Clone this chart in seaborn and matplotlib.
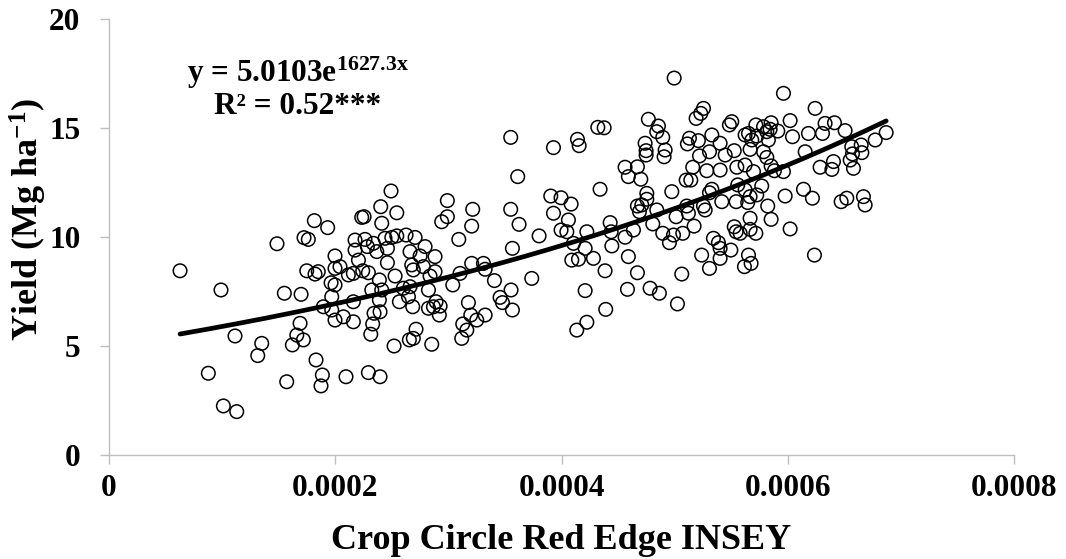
import numpy as np
import pandas as pd
import matplotlib
matplotlib.use("Agg")
import matplotlib.pyplot as plt
import seaborn as sns

# ---- data (INSEY in units of 1e-4, yield in Mg/ha) ----
insey_e4 = [
    0.628, 0.990, 1.114, 0.878, 1.011, 1.129,
    1.815, 1.933, 1.485, 1.724, 1.762, 2.234, 1.998, 1.748, 1.821, 1.850, 1.998, 2.042, 1.963, 1.998,
    1.969, 2.116, 2.160, 2.175, 2.175, 2.205, 1.550, 1.698, 1.895, 1.969, 1.998, 2.072, 2.160, 2.160,
    1.689, 1.660, 1.718, 1.621, 1.350, 1.315, 1.830, 1.886, 1.874, 1.571, 2.095,
    2.493, 2.402, 2.544, 2.255, 2.411, 2.991, 3.215, 2.941, 2.991, 3.206, 3.092, 2.263, 2.337, 2.440,
    2.500, 2.544, 2.626, 2.706, 2.284, 2.367, 2.461, 2.661, 2.794, 2.750, 2.882, 2.461, 2.676, 2.779,
    2.243, 2.293, 2.690, 2.882, 2.529, 2.390, 2.838, 3.206, 3.103, 3.310, 3.325, 2.323, 2.411, 2.602,
    2.661, 2.824, 3.039, 2.390, 2.567, 2.647, 2.685, 2.891, 2.824, 2.868, 2.927, 2.920, 2.343, 2.396,
    3.177, 3.198, 3.251, 3.325, 2.331, 2.314, 2.714, 2.690, 2.655, 2.853, 2.520, 3.127, 3.163, 3.118,
    2.293, 2.396,
    3.551, 3.929, 4.141, 4.156, 4.321, 4.377, 3.613, 4.341, 3.905, 3.996, 4.085, 3.551, 3.929, 4.061,
    3.625, 3.996, 4.047, 4.224, 4.430, 4.439, 3.802, 4.106, 4.209, 3.566, 4.282, 4.091, 4.150, 4.445,
    4.385, 3.407, 3.737, 3.554, 3.457, 3.478, 3.566, 4.209, 4.391, 4.224, 4.135,
    4.996, 5.255, 5.231, 5.190, 5.505, 5.484, 4.768, 4.857, 4.842, 4.895, 4.739, 4.748, 4.748, 4.916,
    4.907, 5.131, 5.113, 5.210, 5.329, 5.402, 5.308, 5.220, 5.447, 5.527, 5.550, 4.562, 4.671, 4.591,
    4.701, 5.160, 5.284, 5.402, 5.102, 5.143, 4.975, 5.329, 5.308, 4.754, 4.754, 4.710, 4.671, 4.689,
    4.842, 5.107, 5.122, 5.013, 5.255, 5.270, 5.417, 5.544, 4.636, 4.807, 4.895, 4.954, 4.990, 5.072,
    5.172, 4.562, 4.591, 4.671, 5.063, 4.583, 4.783, 4.865, 5.025, 5.239, 5.308, 5.343, 5.387, 5.402,
    5.402, 5.497, 5.527, 5.544,
    5.962, 6.242, 6.021, 5.718, 5.786, 5.853, 5.844, 5.912, 5.815, 5.653, 5.623, 5.726, 5.682, 5.829,
    6.042, 6.183, 6.307, 6.330, 6.413, 6.507, 6.870, 6.773, 6.649, 6.566, 6.655, 6.572, 6.552, 6.581,
    6.404, 6.390, 6.286, 6.154, 5.962, 5.667, 5.786, 5.815, 5.623, 5.697, 5.853, 5.882, 5.558, 5.623,
    5.667, 5.770, 5.726, 5.646, 5.823, 5.977, 6.139, 6.218, 6.472, 6.522, 6.669, 6.684, 5.667, 5.853,
    6.021, 5.579, 5.667, 5.718, 6.236, 5.653, 5.676, 5.617,
]
yield_mg = [
    8.45, 7.57, 5.46, 3.75, 2.25, 1.99,
    10.75, 10.43, 9.69, 9.97, 9.89, 10.90, 9.13, 8.45, 8.30, 8.41, 8.56, 8.64, 7.90, 7.80,
    7.26, 8.26, 8.33, 9.86, 9.40, 8.94, 7.42, 7.37, 6.80, 6.65, 6.19, 6.34, 6.11, 7.03,
    6.04, 5.50, 5.28, 5.05, 5.12, 4.56, 4.36, 3.67, 3.17, 3.36, 3.59,
    12.11, 11.39, 11.11, 10.93, 10.63, 11.67, 11.27, 10.70, 10.93, 10.50, 9.89, 9.89, 9.71, 9.94,
    9.98, 10.05, 10.09, 9.98, 9.56, 9.33, 9.48, 9.33, 9.56, 9.13, 9.10, 8.82, 8.72, 8.64,
    8.45, 8.36, 8.49, 8.41, 8.21, 8.03, 8.21, 8.79, 8.33, 8.79, 8.52, 7.57, 7.57, 7.65,
    7.72, 7.57, 7.80, 7.11, 7.03, 7.26, 6.80, 7.03, 6.73, 6.80, 6.83, 6.42, 6.50, 6.57,
    6.99, 6.42, 6.19, 6.42, 6.01, 5.54, 5.77, 5.35, 5.28, 5.08, 5.00, 6.01, 5.73, 5.35,
    3.78, 3.59,
    14.57, 14.10, 14.48, 14.19, 15.03, 15.01, 12.77, 12.19, 11.88, 11.80, 11.51, 11.27, 11.09, 10.78,
    10.58, 10.32, 10.24, 10.24, 10.66, 10.24, 10.05, 9.71, 9.48, 9.48, 9.02, 8.94, 8.98, 9.59,
    8.45, 8.00, 8.10, 7.57, 7.23, 6.99, 6.65, 7.54, 6.68, 6.09, 5.73,
    17.29, 15.90, 15.67, 15.44, 15.29, 15.14, 15.40, 15.09, 14.83, 14.57, 14.30, 13.96, 13.76, 13.99,
    13.68, 14.53, 14.27, 14.42, 14.68, 14.30, 13.91, 13.72, 13.76, 13.96, 13.20, 13.20, 13.22, 12.77,
    12.65, 13.20, 13.04, 13.07, 12.61, 12.61, 12.08, 12.19, 12.03, 12.00, 11.73, 11.47, 11.42, 11.16,
    11.24, 11.42, 11.09, 10.93, 11.42, 11.24, 11.62, 11.62, 10.32, 10.60, 10.17, 9.74, 10.09, 10.17,
    10.50, 9.99, 9.10, 8.36, 8.30, 7.60, 7.65, 7.42, 6.93, 9.17, 8.56, 9.94, 9.74, 9.48,
    9.02, 9.40, 10.47, 10.24,
    16.59, 15.90, 15.34, 15.14, 15.06, 15.24, 14.94, 14.86, 14.83, 14.75, 14.68, 14.63, 14.45, 14.45,
    14.60, 14.75, 14.75, 15.21, 15.24, 14.88, 14.79, 14.45, 14.22, 14.14, 13.87, 13.81, 13.53, 13.15,
    13.46, 13.10, 13.20, 13.91, 13.00, 14.02, 13.91, 13.65, 13.30, 13.00, 13.26, 13.04, 12.39, 12.16,
    11.85, 12.34, 11.93, 11.58, 11.42, 11.88, 12.19, 11.78, 11.62, 11.78, 11.85, 11.47, 10.86, 10.81,
    10.37, 10.17, 10.35, 10.17, 9.17, 9.17, 8.79, 8.64,
]

# fitted exponential model (from the equation shown on the chart)
fit_a = 5.0103
fit_b = 1627.3

x_ticks = [0, 0.0002, 0.0004, 0.0006, 0.0008]
x_tick_labels = ["0", "0.0002", "0.0004", "0.0006", "0.0008"]
y_ticks = [0, 5, 10, 15, 20]
y_tick_labels = ["0", "5", "10", "15", "20"]

df = pd.DataFrame({"insey": np.array(insey_e4) * 1e-4, "yield": yield_mg})
xs = np.linspace(df["insey"].min(), df["insey"].max(), 200)
fit_df = pd.DataFrame({"insey": xs, "yield": fit_a * np.exp(fit_b * xs)})

# ---- style ----
sns.set_theme(style="white")
plt.rcParams["font.family"] = ["Liberation Serif", "DejaVu Serif"]
plt.rcParams["font.weight"] = "bold"
plt.rcParams["mathtext.fontset"] = "custom"
plt.rcParams["mathtext.rm"] = "Liberation Serif:bold"
plt.rcParams["mathtext.it"] = "Liberation Serif:bold"
plt.rcParams["mathtext.bf"] = "Liberation Serif:bold"
plt.rcParams["mathtext.default"] = "rm"

fig, ax = plt.subplots(figsize=(10.66, 5.59), dpi=100)
fig.subplots_adjust(left=109 / 1066, right=1014 / 1066, top=1 - 19 / 559, bottom=1 - 455 / 559)

grey = "#bfbfbf"
sns.scatterplot(data=df, x="insey", y="yield", marker="o", s=95,
                facecolors="none", edgecolor="black", linewidth=1.1, ax=ax, zorder=3)
for coll in ax.collections:
    coll.set_facecolor("none")
    coll.set_edgecolor("black")

sns.lineplot(data=fit_df, x="insey", y="yield", color="black", linewidth=3.4, ax=ax, zorder=4)

ax.set_xlim(0, 0.0008)
ax.set_ylim(0, 20)
ax.set_xticks(x_ticks)
ax.set_xticklabels(x_tick_labels)
ax.set_yticks(y_ticks)
ax.set_yticklabels(y_tick_labels)

for s in ["top", "right"]:
    ax.spines[s].set_visible(False)
for s in ["left", "bottom"]:
    ax.spines[s].set_color(grey)
    ax.spines[s].set_linewidth(1.0)

ax.tick_params(axis="both", which="major", direction="out", length=6.5, width=1.0,
               color=grey, labelsize=22.5, labelcolor="black", bottom=True, left=True)
ax.tick_params(axis="x", pad=7)
ax.tick_params(axis="y", pad=14)
for lab in ax.get_xticklabels() + ax.get_yticklabels():
    lab.set_fontweight("bold")

ax.set_xlabel("Crop Circle Red Edge INSEY", fontsize=26, fontweight="bold", color="black")
ax.set_ylabel("Yield (Mg ha$^{-1}$)", fontsize=26, fontweight="bold", color="black")
ax.xaxis.label.set_va("center")
ax.yaxis.label.set_va("center")
ax.xaxis.set_label_coords(0.5, -0.195)
ax.yaxis.set_label_coords(-0.0895, 0.54)

fig.text(298 / 1066, 1 - 73 / 559, "y = 5.0103e$^{1627.3x}$", ha="center", va="center",
         fontsize=22.5, fontweight="bold", color="black")
fig.text(298 / 1066, 1 - 107 / 559, "R² = 0.52***", ha="center", va="center",
         fontsize=22.5, fontweight="bold", color="black")

fig.savefig("out.png", dpi=100)
